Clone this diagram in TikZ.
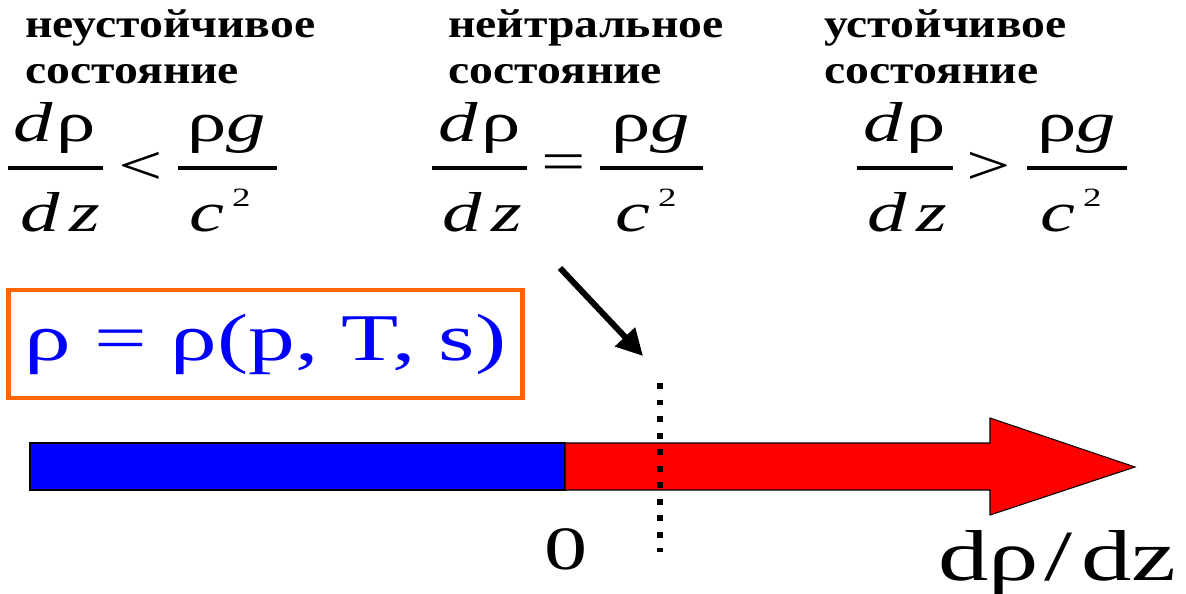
\documentclass[tikz,border=0pt]{standalone}
\usepackage{fontspec}
\setmainfont{Liberation Serif}[FakeStretch=1.4]
\newfontfamily\headfont{Liberation Serif}[FakeStretch=1.18]
\usepackage{tikz}
\usetikzlibrary{arrows.meta}
\definecolor{stateblue}{HTML}{0000FF}
\definecolor{statered}{HTML}{FF0000}
\definecolor{stateorange}{HTML}{FF6600}
\definecolor{statedark}{HTML}{000000}
\newcommand{\csq}{\textit{c}\raisebox{0.45em}{\fontsize{15}{15}\selectfont\hspace{0.3em}2}}

\begin{document}
\begin{tikzpicture}[x=0.02cm,y=-0.02cm,
 head/.style={anchor=north west,align=left,inner sep=0pt,
  font=\headfont\bfseries\fontsize{23}{26.6}\selectfont},
 fracpart/.style={anchor=base,inner sep=0pt,font=\fontsize{32}{36}\selectfont},
 relsign/.style={inner sep=0pt,font=\fontsize{32}{36}\selectfont},
 fracbar/.style={line width=2.8pt,statedark}]
% 1 unit = 1 px of the 1186x594 frame, y grows downward
\useasboundingbox (0,0) rectangle (1186,594);

% ── Headings ────────────────────────────────────────────────────
\node[head] (hunst) at (25,9) {неустойчивое\\состояние};
\node[head] (hneut) at (448,9) {нейтральное\\состояние};
\node[head] (hstab) at (824,9) {устойчивое\\состояние};

% ── Criteria: dρ/dz vs ρg/c² ────────────────────────────────────
% unstable
\node[fracpart] (unum) at (55,142) {\textit{d}\hspace{0.06em}ρ};
\node[fracpart] (uden) at (60,232) {\textit{d\,z}};
\draw[fracbar] (8,168) -- (103,168);
\node[relsign] (urel) at (141,168) {<};
\node[fracpart] (urnum) at (227,142) {ρ\textit{g}};
\node[fracpart] (urden) at (220,232) {\csq};
\draw[fracbar] (178,168) -- (277,168);
% neutral
\node[fracpart] (nnum) at (480,142) {\textit{d}\hspace{0.06em}ρ};
\node[fracpart] (nden) at (482,232) {\textit{d\,z}};
\draw[fracbar] (432,168) -- (527,168);
\node[relsign] (nrel) at (564,168) {=};
\node[fracpart] (nrnum) at (651,142) {ρ\textit{g}};
\node[fracpart] (nrden) at (646,232) {\csq};
\draw[fracbar] (600,168) -- (703,168);
% stable
\node[fracpart] (snum) at (905,142) {\textit{d}\hspace{0.06em}ρ};
\node[fracpart] (sden) at (907,232) {\textit{d\,z}};
\draw[fracbar] (857,168) -- (953,168);
\node[relsign] (srel) at (989,168) {>};
\node[fracpart] (srnum) at (1077,142) {ρ\textit{g}};
\node[fracpart] (srden) at (1071,232) {\csq};
\draw[fracbar] (1027,168) -- (1127,168);

% ── Equation of state box ───────────────────────────────────────
\node[draw=stateorange,line width=2.8pt,text=stateblue,
 minimum width=10.3cm,minimum height=2.16cm,inner sep=0pt,
 font=\fontsize{38}{40}\selectfont] (eos) at (265.5,344) {ρ = ρ(p, T, s)};

% ── Axis bar: negative (blue) and positive (red arrow) ──────────
\fill[stateblue] (30,443) rectangle (565,490);
\draw[statedark,line width=0.6pt] (30,443) rectangle (565,490);
\filldraw[fill=statered,draw=statedark,line width=0.6pt]
 (565,443) -- (990,443) -- (990,418) -- (1135,467)
 -- (990,515) -- (990,490) -- (565,490) -- cycle;
\node[inner sep=0pt,font=\fontsize{35}{36}\selectfont] (zero) at (566,549) {0};
\node[anchor=base west,inner sep=0pt,font=\fontsize{41}{44}\selectfont]
 (axlab) at (938,580) {dρ\hspace{0.08em}/\hspace{0.12em}dz};

% ── Neutral point marker ────────────────────────────────────────
\coordinate (mtop) at (660,383);
\coordinate (mbot) at (660,552);
\draw[statedark,line width=3.4pt,dash pattern=on 3.4pt off 6pt] (mtop) -- (mbot);
\coordinate (ptr) at (560,268);
\coordinate (ptrend) at (643,356);
\draw[statedark,line width=3.4pt,-{Triangle[length=15pt,width=15pt]}] (ptr) -- (ptrend);
\end{tikzpicture}
\end{document}
